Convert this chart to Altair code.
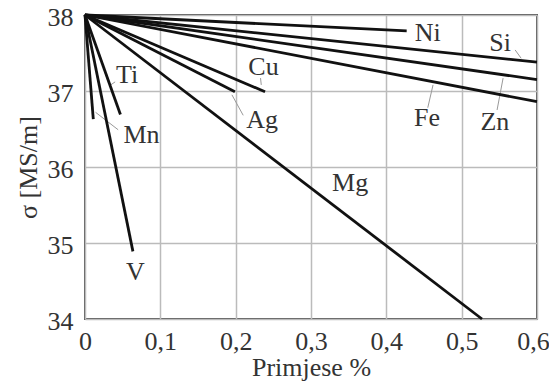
import altair as alt
import pandas as pd

# Metals (all lines start at 0 %, 38 MS/m)
metals = ["Ni", "Si", "Zn", "Fe", "Cu", "Ag", "Mg", "Ti", "Mn", "V"]
start_x = [0.0] * 10
start_y = [38.0] * 10
end_x = [0.427, 0.6, 0.6, 0.6, 0.239, 0.199, 0.527, 0.047, 0.011, 0.0636]
end_y = [37.79, 37.38, 37.15, 36.86, 36.99, 36.99, 34.0, 36.69, 36.63, 34.89]

# Label text positions
label_text = ["Ni", "Si", "Fe", "Zn", "Cu", "Ag", "Mg", "Ti", "Mn", "V"]
label_x = [0.455, 0.551, 0.454, 0.544, 0.237, 0.235, 0.352, 0.056, 0.075, 0.067]
label_y = [37.76, 37.63, 36.64, 36.59, 37.32, 36.62, 35.79, 37.21, 36.42, 34.62]

# Leader lines (from label to curve)
leader_name = ["Si", "Fe", "Zn", "Cu", "Ag", "Mn", "Ti"]
leader_x1 = [0.571, 0.455, 0.547, 0.233, 0.210, 0.044, 0.040]
leader_y1 = [37.54, 36.78, 36.75, 37.17, 36.68, 36.49, 37.12]
leader_x2 = [0.579, 0.462, 0.555, 0.234, 0.195, 0.014, 0.034]
leader_y2 = [37.43, 37.08, 37.17, 37.08, 36.95, 36.72, 37.08]

x_ticks = [0, 0.1, 0.2, 0.3, 0.4, 0.5, 0.6]
y_ticks = [34, 35, 36, 37, 38]

rows = []
for m, sx, sy, ex, ey in zip(metals, start_x, start_y, end_x, end_y):
    rows.append({"metal": m, "x": sx, "y": sy, "o": 0})
    rows.append({"metal": m, "x": ex, "y": ey, "o": 1})
lines_df = pd.DataFrame(rows)
labels_df = pd.DataFrame({"t": label_text, "x": label_x, "y": label_y})
leaders_df = pd.DataFrame({"n": leader_name, "x": leader_x1, "y": leader_y1,
                           "x2": leader_x2, "y2": leader_y2})

FONT = "Liberation Serif"
FS = 26

xscale = alt.Scale(domain=[0, 0.6], nice=False, zero=False)
yscale = alt.Scale(domain=[34, 38], nice=False, zero=False)

xaxis = alt.Axis(
    values=x_ticks, title="Primjese %", grid=True, tickSize=0,
    labelExpr="datum.value == 0 ? '0' : replace(format(datum.value, '.1f'), '.', ',')",
    labelOffset={"condition": {"test": "datum.value > 0.55", "value": -4}, "value": 0},
    labelPadding=9, labelFontSize=FS, labelFont=FONT, labelColor="#333",
    titleFont=FONT, titleFontSize=FS, titleFontWeight="normal", titleColor="#333",
    titleY=56, titleBaseline="alphabetic", domain=False, labelFlush=False,
)
yaxis = alt.Axis(
    values=y_ticks, format="d", title="σ [MS/m]", grid=True, tickSize=0,
    labelPadding=12, labelFontSize=FS, labelFont=FONT, labelColor="#333",
    titleFont=FONT, titleFontSize=FS, titleFontWeight="normal", titleColor="#333",
    titleX=-49, titleY=152, titleAlign="center", titleBaseline="alphabetic",
    domain=False, labelOffset=2, labelFlush=False,
)

base_lines = alt.Chart(lines_df).mark_line(color="#111", strokeWidth=2.8).encode(
    x=alt.X("x:Q", scale=xscale, axis=xaxis),
    y=alt.Y("y:Q", scale=yscale, axis=yaxis),
    detail="metal:N",
    order="o:Q",
)

leaders = alt.Chart(leaders_df).mark_rule(color="#999", strokeWidth=1).encode(
    x=alt.X("x:Q", scale=xscale),
    y=alt.Y("y:Q", scale=yscale),
    x2="x2:Q",
    y2="y2:Q",
)

labels = alt.Chart(labels_df).mark_text(
    font=FONT, fontSize=FS, color="#333", align="center", baseline="middle"
).encode(
    x=alt.X("x:Q", scale=xscale),
    y=alt.Y("y:Q", scale=yscale),
    text="t:N",
)

chart = alt.layer(leaders, base_lines, labels).properties(
    width=452, height=304,
    autosize=alt.AutoSizeParams(type="none"),
    padding={"left": 77, "top": 7, "right": 12, "bottom": 62},
).configure_view(
    stroke="#555", strokeWidth=2
).configure_axis(
    gridColor="#bbb", gridWidth=1.5
)

chart.save("out.html", embed_options={"renderer": "svg", "actions": False})
